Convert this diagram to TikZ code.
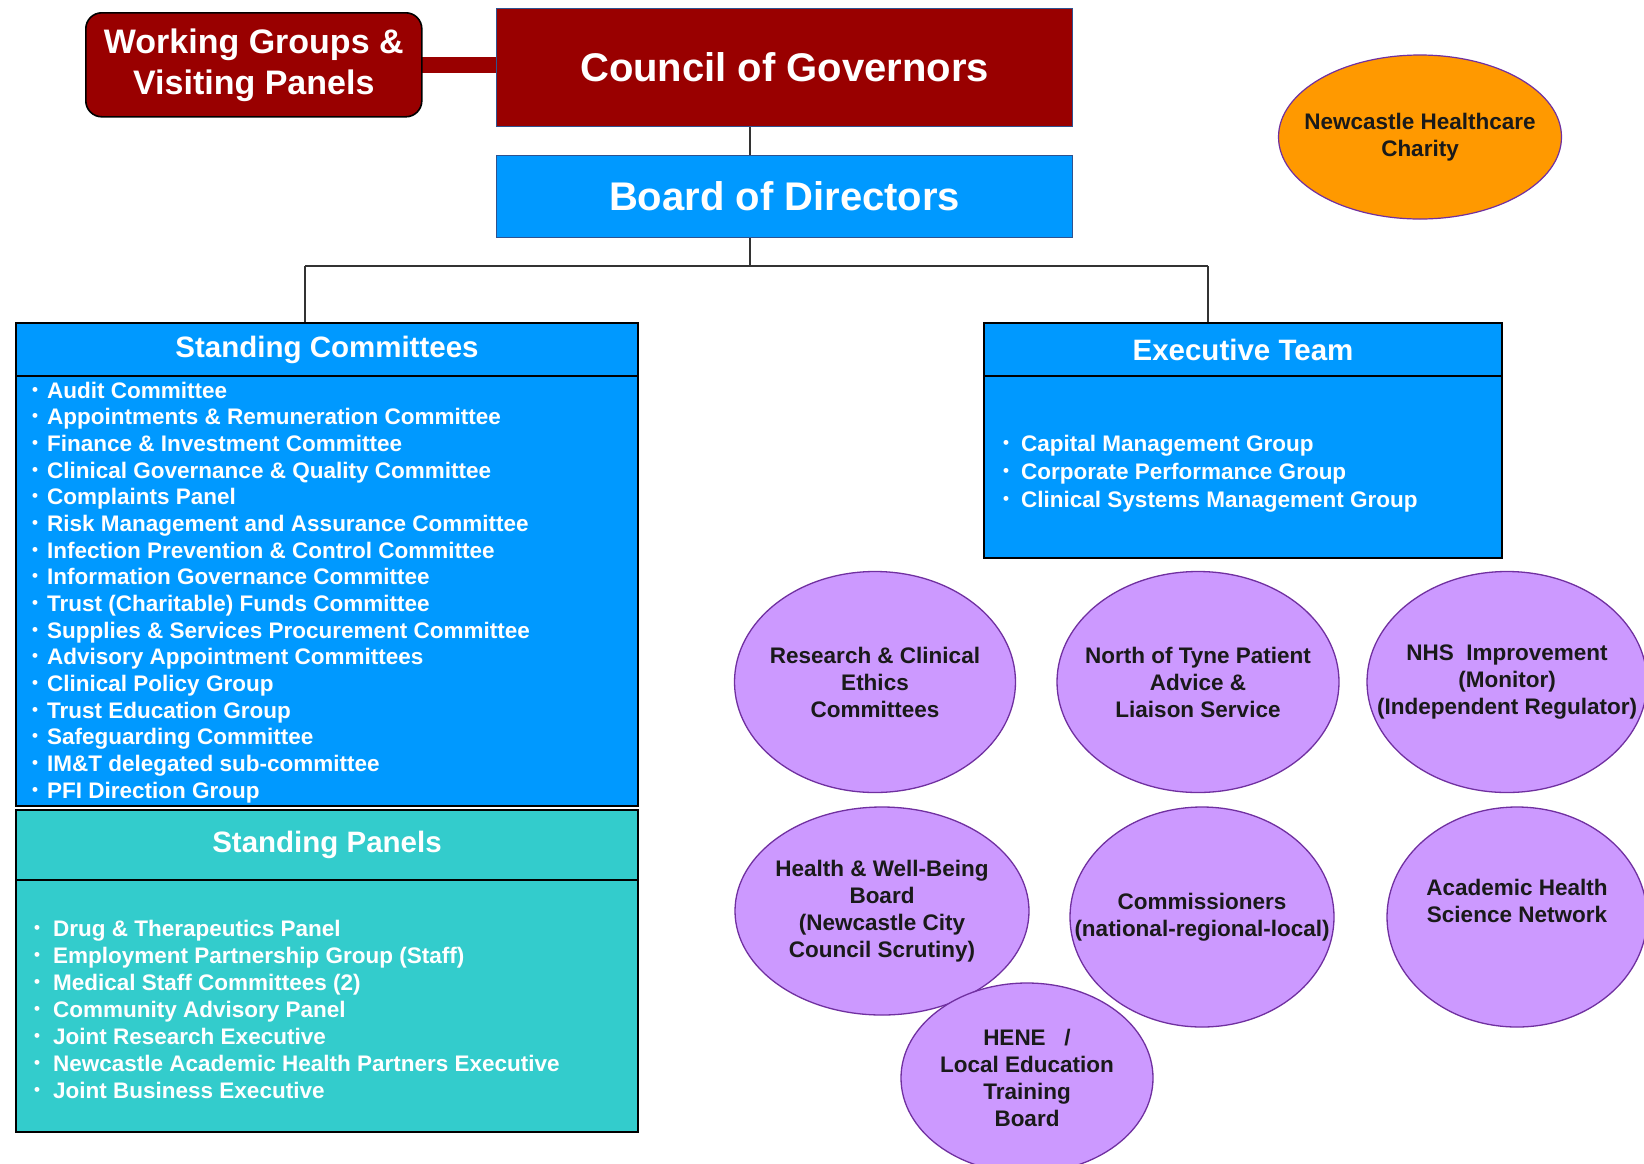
\documentclass[tikz,border=0pt]{standalone}
\usepackage{fontspec}
\setmainfont{Liberation Sans}
\usetikzlibrary{shapes.geometric,calc}
\definecolor{cgred}{HTML}{990000}
\definecolor{bdblue}{HTML}{0099FF}
\definecolor{teal2}{HTML}{33CCCC}
\definecolor{orng}{HTML}{FF9900}
\definecolor{lav}{HTML}{CC99FF}
\definecolor{purpedge}{HTML}{7030A0}
\definecolor{bordblue}{HTML}{2F528F}
\definecolor{txtdark}{HTML}{1A1A1A}
\definecolor{connc}{HTML}{333333}
\newcommand{\bul}{\raisebox{3pt}{\fontsize{17}{17}\selectfont\textbullet}}
\pgfdeclarelayer{back}
\pgfdeclarelayer{bg}
\pgfsetlayers{back,bg,main}
\tikzset{
  rbox/.style={rectangle, anchor=north west, inner sep=0pt, text=white, align=center},
  redbox/.style={rbox, fill=cgred, draw=bordblue, line width=1.2pt, font=\bfseries\fontsize{40}{48}\selectfont},
  bluebox/.style={rbox, fill=bdblue, draw=bordblue, line width=1.2pt, font=\bfseries\fontsize{40}{48}\selectfont},
  wgbox/.style={rbox, fill=cgred, draw=black, line width=1.6pt, rounded corners=16pt, font=\bfseries\fontsize{34}{41}\selectfont},
  headbox/.style={rbox, draw=black, line width=2pt, font=\bfseries\fontsize{29.5}{35}\selectfont},
  bodybox/.style={rbox, draw=black, line width=2pt},
  item/.style={anchor=base west, inner sep=0pt, text=white, font=\bfseries\fontsize{22.5}{27}\selectfont},
  ell/.style={ellipse, draw=purpedge, line width=1.3pt, fill=lav, inner sep=0pt},
  elltext/.style={align=center, inner sep=0pt, text=txtdark, font=\bfseries\fontsize{22.5}{27}\selectfont},
  conn/.style={draw=connc, line width=1.6pt},
  bar/.style={draw=cgred, line width=16pt}
}
\begin{document}
\begin{tikzpicture}[x=1pt,y=-1pt]
\begin{pgfonlayer}{back}
\fill[white] (0,0) rectangle (1644,1163);
\end{pgfonlayer}
\useasboundingbox (0,0) rectangle (1644,1163);

% top boxes
\node[wgbox, minimum width=336pt, minimum height=104pt] (wg) at (85,12) {Working Groups \&\\Visiting Panels};
\node[redbox, minimum width=576pt, minimum height=118pt] (cog) at (496,8) {Council of Governors};
\node[bluebox, minimum width=576pt, minimum height=82pt] (bod) at (496,155) {Board of Directors};

\begin{pgfonlayer}{bg}
\draw[bar] (wg.center) -- (cog.center |- wg.center);
\end{pgfonlayer}

% charity
\node[ellipse, draw=purpedge, line width=1.2pt, fill=orng, inner sep=0pt, minimum width=283pt, minimum height=164pt] (charity) at (1420,137) {};
\node[elltext] (charityt) at (charity.center) {Newcastle Healthcare\\Charity};

% standing committees
\node[headbox, fill=bdblue, minimum width=622pt, minimum height=53pt] (schead) at (15,322) {Standing Committees};
\node[bodybox, fill=bdblue, minimum width=622pt, minimum height=430pt] (scbody) at (15,375) {};
\foreach \t [count=\i from 0] in {{Audit Committee},{Appointments \& Remuneration Committee},{Finance \& Investment Committee},{Clinical Governance \& Quality Committee},{Complaints Panel},{Risk Management and Assurance Committee},{Infection Prevention \& Control Committee},{Information Governance Committee},{Trust (Charitable) Funds Committee},{Supplies \& Services Procurement Committee},{Advisory Appointment Committees},{Clinical Policy Group},{Trust Education Group},{Safeguarding Committee},{IM\&T delegated sub-committee},{PFI Direction Group}}
  \node[item] (sc\i) at (32,{398+26.67*\i}) {\makebox[15pt][l]{\bul}\t};

% standing panels
\node[headbox, fill=teal2, minimum width=622pt, minimum height=70pt] (sphead) at (15,809) {Standing Panels};
\node[bodybox, fill=teal2, minimum width=622pt, minimum height=252pt] (spbody) at (15,879) {};
\foreach \t [count=\i from 0] in {{Drug \& Therapeutics Panel},{Employment Partnership Group (Staff)},{Medical Staff Committees (2)},{Community Advisory Panel},{Joint Research Executive},{Newcastle Academic Health Partners Executive},{Joint Business Executive}}
  \node[item] (sp\i) at (34,{936+27*\i}) {\makebox[19pt][l]{\bul}\t};

% executive team
\node[headbox, fill=bdblue, minimum width=518pt, minimum height=53pt] (ethead) at (983,322) {Executive Team};
\node[bodybox, fill=bdblue, minimum width=518pt, minimum height=182pt] (etbody) at (983,375) {};
\foreach \t [count=\i from 0] in {{Capital Management Group},{Corporate Performance Group},{Clinical Systems Management Group}}
  \node[item] (et\i) at (1003,{451+28*\i}) {\makebox[18pt][l]{\bul}\t};

% connectors
\coordinate (spine) at (750,0);
\coordinate (bus) at (750,266);
\coordinate (busL) at (305,266);
\coordinate (busR) at (1208,266);
\draw[conn] (cog.south -| spine) -- (bod.north -| spine);
\draw[conn] (bod.south -| spine) -- (bus);
\draw[conn] (busL) -- (busR);
\draw[conn] (busL) -- (schead.north -| busL);
\draw[conn] (busR) -- (ethead.north -| busR);

% purple ellipses
\node[ell, minimum width=281pt, minimum height=221pt] (rce) at (875,682) {};
\node[elltext] (rcet) at (rce.center) {Research \& Clinical\\Ethics\\Committees};
\node[ell, minimum width=282pt, minimum height=221pt] (nty) at (1198,682) {};
\node[elltext] (ntyt) at (nty.center) {North of Tyne Patient\\Advice \&\\Liaison Service};
\node[ell, minimum width=280pt, minimum height=221pt] (nhs) at (1507,682) {};
\node[elltext] (nhst) at (nhs.center) {NHS\ \ Improvement\\(Monitor)\\(Independent Regulator)};
\node[ell, minimum width=294pt, minimum height=208pt] (hwb) at (882,911) {};
\node[elltext] (hwbt) at (hwb.center) {Health \& Well-Being\\Board\\(Newcastle City\\Council Scrutiny)};
\node[ell, minimum width=264pt, minimum height=220pt] (com) at (1202,917) {};
\node[elltext] (comt) at (com.center) {Commissioners\\(national-regional-local)};
\node[ell, minimum width=260pt, minimum height=220pt] (ahsn) at (1517,917) {};
\node[elltext] (ahsnt) at ($(ahsn.center)+(0,-16)$) {Academic Health\\Science Network};
\node[ell, minimum width=252pt, minimum height=190pt] (hene) at (1027,1078) {};
\node[elltext] (henet) at (hene.center) {HENE\ \ \ /\\Local Education\\Training\\Board};
\end{tikzpicture}
\end{document}
